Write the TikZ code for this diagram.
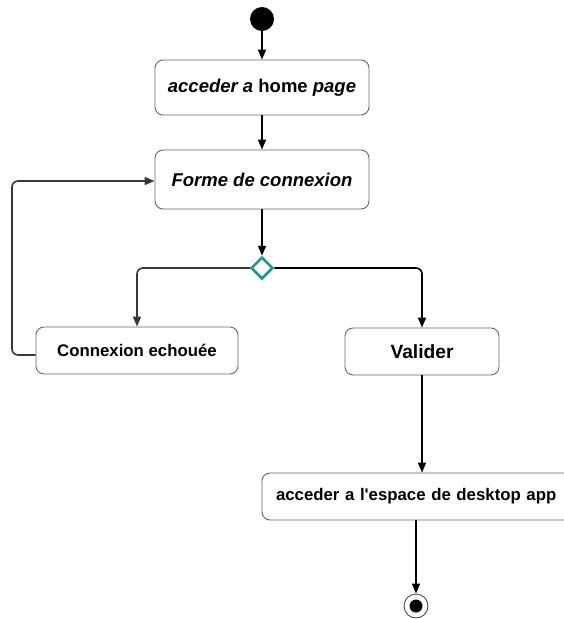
\documentclass[tikz,border=0pt]{standalone}
\usepackage{fontspec}
\setmainfont{Liberation Sans}
\usetikzlibrary{arrows.meta,shapes.geometric}
\definecolor{guard}{RGB}{20,155,135}
\begin{document}
\begin{tikzpicture}[x=1pt,y=-1pt,
  act/.style={draw=black!60, line width=0.9pt, rounded corners=8pt, fill=white,
    inner sep=0pt, font=\fontsize{16.8}{20}\selectfont\bfseries},
  big/.style={font=\fontsize{18.5}{22}\selectfont\bfseries},
  flow/.style={line width=1.6pt, -{Triangle[length=10pt,width=8pt]}},
  back/.style={flow, draw=black!78, rounded corners=6pt},
  decision/.style={diamond, draw=guard, line width=2.5pt, fill=white,
    minimum width=22pt, minimum height=22pt, inner sep=0pt}]
\useasboundingbox (0,0) rectangle (563,619);
% start and final states
\node[circle, fill=black, minimum size=24pt, inner sep=0pt] (start) at (262,19) {};
\node[circle, draw=black!70, line width=0.9pt, fill=white, minimum size=24pt, inner sep=0pt] (stop) at (416,606) {};
\node[circle, fill=black, minimum size=13pt, inner sep=0pt] at (stop) {};
% activities
\node[act, big, minimum width=214pt, minimum height=55pt] (home) at (262,87.5)
  {\itshape acceder a \upshape home \itshape page};
\node[act, big, minimum width=214pt, minimum height=59pt] (form) at (262,179.5)
  {\itshape Forme de connexion};
\node[decision] (dec) at (262,268) {};
\node[act, minimum width=202pt, minimum height=47pt] (fail) at (137,350.5)
  {Connexion echouée};
\node[act, minimum width=154pt, minimum height=47pt, font=\fontsize{19.2}{22}\selectfont\bfseries] (ok) at (422,351.5)
  {Valider};
\node[act, minimum width=314pt, minimum height=47pt, text width=314pt, align=left] (desk) at (419,496.5)
  {\hspace*{14pt}acceder a l\textquotesingle espace de desktop app};
% transitions
\draw[flow] (start) -- (home);
\draw[flow] (home) -- (form);
\draw[flow] (form) -- (dec);
\draw[back] (dec.west) -| (fail.north);
\draw[flow, rounded corners=6pt] (dec.east) -| (ok.north);
\draw[back] (fail.west |- 0,355) -| (12,181) -- (form.west |- 0,181);
\draw[flow] (ok.south) -- (ok.south |- desk.north);
\draw[flow] (desk.south -| stop) -- (stop.north);
\end{tikzpicture}
\end{document}
